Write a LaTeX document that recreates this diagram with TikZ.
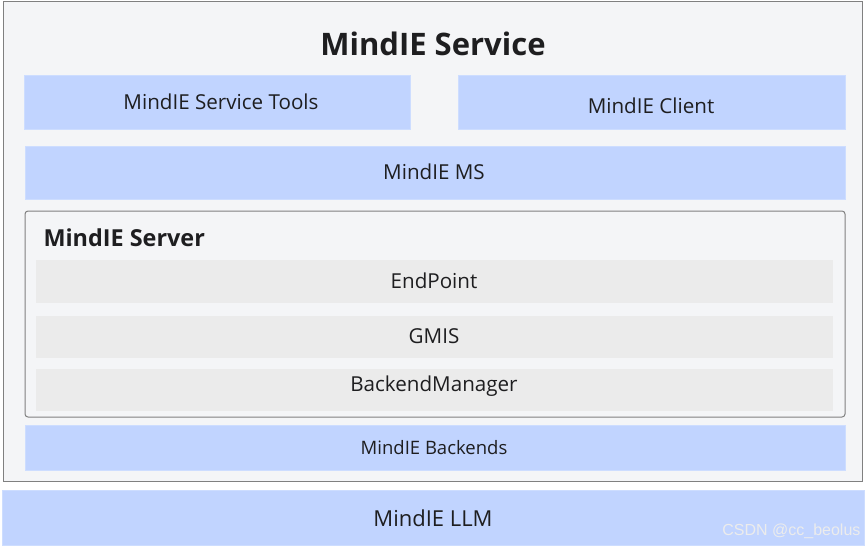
\documentclass[tikz,border=0pt]{standalone}
\usepackage{fontspec}
\setmainfont{Open Sans}
\newfontfamily\wmfont{Liberation Sans}
\definecolor{bluebox}{RGB}{193,212,255}
\definecolor{graybox}{RGB}{235,235,235}
\definecolor{bgpanel}{RGB}{244,245,247}
\definecolor{frame}{RGB}{128,128,128}
\definecolor{ink}{RGB}{30,30,32}
\begin{document}
\begin{tikzpicture}[x=1pt,y=-1pt,
  blue/.style={fill=bluebox,draw=bluebox!80!white,line width=0.6pt},
  grey/.style={fill=graybox,draw=none},
  lbl/.style={text=ink,font=\fontsize{20.6}{23}\selectfont,anchor=center},
  panel/.style={fill=bgpanel,draw=frame,line width=1pt}]
\useasboundingbox (0,0) rectangle (866,547);
\fill[white] (0,0) rectangle (866,547);
% outer service panel
\draw[panel] (3,1) rectangle (862,481);
\node[text=ink,font=\fontsize{31}{34}\selectfont\bfseries] (title) at (433,44) {MindIE Service};
% top row
\draw[blue] (24,75) rectangle (410,129);
\node[lbl] (tools) at (221,102) {MindIE Service Tools};
\draw[blue] (458,75) rectangle (845,129);
\node[lbl] (client) at (651,106) {MindIE Client};
% MS
\draw[blue] (25,146) rectangle (845,199);
\node[lbl] (ms) at (434,172) {MindIE MS};
% server
\draw[fill=bgpanel,draw=frame,line width=1pt,rounded corners=3pt] (25,211) rectangle (845,417);
\node[text=ink,font=\fontsize{23.4}{26}\selectfont\bfseries,anchor=west] (server) at (40,238) {MindIE Server};
\fill[graybox] (36,260) rectangle (833,303);
\node[lbl] (ep) at (434,281) {EndPoint};
\fill[graybox] (36,316) rectangle (833,358);
\node[lbl] (gmis) at (434,336) {GMIS};
\fill[graybox] (36,369) rectangle (833,411);
\node[lbl] (bm) at (434,386) {BackendManager};
% backends
\draw[blue] (25,425) rectangle (845,470);
\node[lbl,font=\fontsize{18.5}{20}\selectfont] (be) at (434,448) {MindIE Backends};
% LLM
\draw[blue] (2,490) rectangle (864,545);
\node[lbl,font=\fontsize{22}{24}\selectfont] (llm) at (433,518) {MindIE LLM};
% watermark
\node[text=white!85!gray,font=\wmfont\fontsize{16}{18}\selectfont,anchor=east] (wm) at (864,531) {CSDN @cc\_beolus};
\end{tikzpicture}
\end{document}
